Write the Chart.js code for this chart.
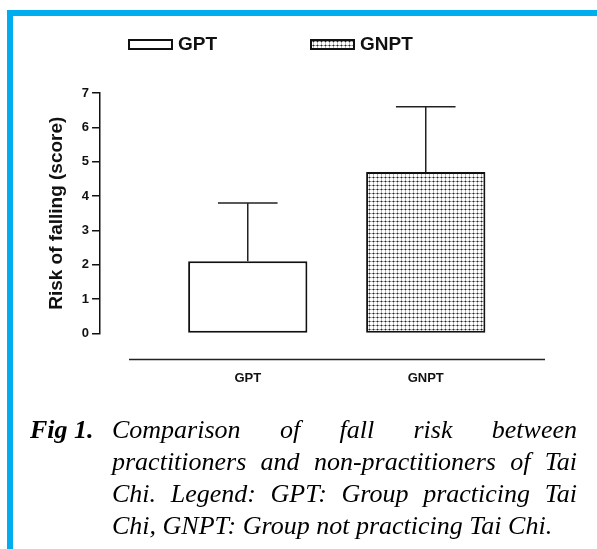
<!DOCTYPE html>
<html lang="en">
<head>
    <meta charset="UTF-8">
    <title>Risk of falling - GPT vs GNPT</title>
    <style>
        body {
            margin: 0;
            width: 597px;
            height: 549px;
            overflow: hidden;
            position: relative;
            background: #fff;
            font-family: Arial, "Liberation Sans", sans-serif;
        }
        .frame {
            position: absolute;
            left: 7px;
            top: 10px;
            width: 620px;
            height: 580px;
            border-top: 6px solid #00aeef;
            border-left: 6px solid #00aeef;
        }
        #chartBox {
            position: absolute;
            left: 0;
            top: 0;
        }
        .caption {
            position: absolute;
            left: 30px;
            top: 414px;
            width: 547px;
            display: flex;
            font-family: "Liberation Serif", "Times New Roman", serif;
            font-style: italic;
            font-size: 26px;
            line-height: 32px;
            color: #000;
        }
        .caption b { flex: none; width: 82px; }
        .caption span { flex: 1; text-align: justify; }
    </style>
</head>
<body>
    <div class="frame"></div>
    <canvas id="chartBox" width="597" height="420"></canvas>
    <div class="caption">
        <b>Fig 1.</b>
        <span>Comparison of fall risk between practitioners and non-practitioners of Tai Chi. Legend: GPT: Group practicing Tai Chi, GNPT: Group not practicing Tai Chi.</span>
    </div>

    <script src="https://cdn.jsdelivr.net/npm/chart.js"></script>
    <script>
        // data
        const categories = ['GPT', 'GNPT'];
        const meanScore = [2.1, 4.7];
        const sdScore = [1.7, 1.9];
        const yMin = 0;
        const yMax = 7;

        // dotted fill used for the GNPT bar
        function dotPattern() {
            const tile = document.createElement('canvas');
            tile.width = 4;
            tile.height = 4;
            const t = tile.getContext('2d');
            t.fillStyle = '#fff';
            t.fillRect(0, 0, 4, 4);
            t.fillStyle = '#aaa';
            t.fillRect(1, 0, 1, 3);
            t.fillStyle = '#888';
            t.fillRect(0, 1, 3, 1);
            t.fillStyle = '#bbb';
            t.fillRect(3, 1, 1, 1);
            t.fillRect(1, 3, 1, 1);
            t.fillStyle = '#222';
            t.fillRect(1, 1, 1, 1);
            return t.createPattern(tile, 'repeat');
        }

        const ctx = document.getElementById('chartBox').getContext('2d');
        const fills = ['#ffffff', dotPattern()];

        // mean + SD whiskers
        const errorBars = {
            id: 'errorBars',
            afterDatasetsDraw(chart) {
                const y = chart.scales.y;
                const c = chart.ctx;
                c.save();
                c.strokeStyle = '#222';
                c.lineWidth = 1.5;
                chart.data.datasets.forEach((ds, i) => {
                    const bar = chart.getDatasetMeta(i).data[0];
                    const top = y.getPixelForValue(meanScore[i] + sdScore[i]);
                    const half = bar.width / 4;
                    c.beginPath();
                    c.moveTo(bar.x, bar.y);
                    c.lineTo(bar.x, top);
                    c.moveTo(bar.x - half, top);
                    c.lineTo(bar.x + half, top);
                    c.stroke();
                });
                c.restore();
            }
        };

        // detached x axis line (GraphPad style)
        const xAxisLine = {
            id: 'xAxisLine',
            afterDraw(chart) {
                const a = chart.chartArea;
                const c = chart.ctx;
                c.save();
                c.strokeStyle = '#222';
                c.lineWidth = 1.5;
                c.beginPath();
                c.moveTo(a.left + 29, a.bottom + 26);
                c.lineTo(a.right, a.bottom + 26);
                c.stroke();
                c.restore();
            }
        };

        // legend placed like the original figure
        const figLegend = {
            id: 'figLegend',
            afterDraw(chart, args, opts) {
                const c = chart.ctx;
                c.save();
                c.font = 'bold 19px Arial, "Liberation Sans", sans-serif';
                c.textBaseline = 'middle';
                chart.data.datasets.forEach((ds, i) => {
                    const x = opts.x[i];
                    c.fillStyle = ds.backgroundColor;
                    c.fillRect(x, opts.y - 4, 43, 9);
                    c.strokeStyle = '#111';
                    c.lineWidth = 2;
                    c.strokeRect(x, opts.y - 4, 43, 9);
                    c.fillStyle = '#111';
                    c.fillText(ds.label, x + 49, opts.y + 1);
                });
                c.restore();
            }
        };

        const chart = new Chart(ctx, {
            type: 'bar',
            data: {
                datasets: categories.map((name, i) => ({
                    label: name,
                    data: [{ x: i, y: meanScore[i] }],
                    backgroundColor: fills[i],
                    borderColor: '#111',
                    borderWidth: 2,
                    borderSkipped: false,
                    grouped: false,
                    barPercentage: 1,
                    categoryPercentage: 0.67
                }))
            },
            options: {
                responsive: false,
                animation: false,
                layout: {
                    padding: { left: 45, right: 52, top: 93, bottom: 5 }
                },
                plugins: {
                    legend: { display: false },
                    tooltip: { enabled: false },
                    figLegend: { x: [129, 311], y: 44 }
                },
                scales: {
                    x: {
                        type: 'linear',
                        offset: false,
                        min: -0.83,
                        max: 1.67,
                        afterBuildTicks: (scale) => {
                            scale.ticks = categories.map((c, i) => ({ value: i }));
                        },
                        ticks: {
                            callback: (v) => categories[v],
                            font: { family: 'Arial', weight: 'bold', size: 13 },
                            color: '#111',
                            padding: 29,
                            autoSkip: false,
                            maxRotation: 0
                        },
                        grid: { display: false },
                        border: { display: false }
                    },
                    y: {
                        min: yMin,
                        max: yMax,
                        ticks: {
                            stepSize: 1,
                            font: { family: 'Arial', weight: 'bold', size: 13 },
                            color: '#111',
                            padding: 3
                        },
                        grid: {
                            drawOnChartArea: false,
                            tickLength: 8,
                            color: '#111',
                            lineWidth: 1.5
                        },
                        border: { color: '#111', width: 1.5 },
                        title: {
                            display: true,
                            text: 'Risk of falling (score)',
                            font: { family: 'Arial', weight: 'bold', size: 19 },
                            color: '#111',
                            padding: { top: 0, bottom: 11 }
                        }
                    }
                }
            },
            plugins: [errorBars, xAxisLine, figLegend]
        });
    </script>
</body>
</html>
